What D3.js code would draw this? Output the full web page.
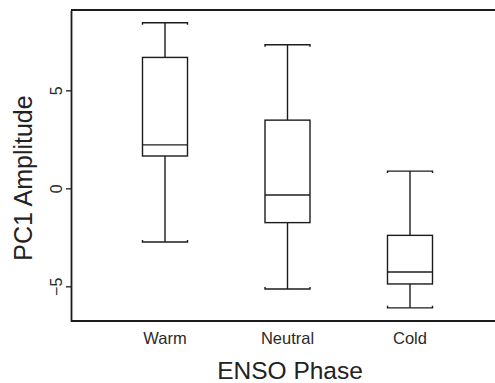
<!DOCTYPE html>
<html>
<head>
<meta charset="utf-8">
<script src="https://cdn.jsdelivr.net/npm/d3@7"></script>
<style>
  body { margin: 0; background: #fff; }
  svg { display: block; font-family: "Liberation Sans", Arial, sans-serif; }
</style>
</head>
<body>
<svg id="chart"></svg>
<script>
// ENSO phases and box stats
const phases = ['Warm', 'Neutral', 'Cold'];
const whiskerLow = [-2.74, -5.14, -6.1];
const q1 = [1.65, -1.75, -4.88];
const median = [2.22, -0.34, -4.27];
const q3 = [6.68, 3.48, -2.40];
const whiskerHigh = [8.45, 7.33, 0.88];
const yTicks = [-5, 0, 5];

const width = 495, height = 383;
const margin = { top: 10, right: 0, bottom: 62, left: 71 };
const boxW = 45;

const svg = d3.select('#chart')
  .attr('width', width)
  .attr('height', height);

const x = d3.scalePoint()
  .domain(phases)
  .range([165, 410]);

const y = d3.scaleLinear()
  .domain([-6.77, 9.1])
  .range([height - margin.bottom, margin.top]);

const data = phases.map((p, i) => ({
  phase: p, lo: whiskerLow[i], q1: q1[i], med: median[i], q3: q3[i], hi: whiskerHigh[i]
}));

const ink = '#1c1c1c';

// frame: top and bottom lines (right side runs off the picture)
const frame = svg.append('g').attr('stroke', ink).attr('stroke-width', 1.8).attr('fill', 'none');
frame.append('line').attr('x1', margin.left).attr('x2', width)
  .attr('y1', y.range()[1]).attr('y2', y.range()[1]);
frame.append('line').attr('x1', margin.left).attr('x2', width)
  .attr('y1', y.range()[0]).attr('y2', y.range()[0]);

// y axis
const yAxis = svg.append('g')
  .attr('transform', `translate(${margin.left},0)`)
  .call(d3.axisLeft(y).tickValues(yTicks).tickSize(5).tickPadding(9).tickSizeOuter(0));
yAxis.select('.domain').attr('stroke', ink).attr('stroke-width', 1.8);
yAxis.selectAll('.tick line').attr('stroke', ink).attr('stroke-width', 1.3);
yAxis.selectAll('.tick text')
  .attr('fill', '#2a2a2a')
  .style('font-size', '16px')
  .attr('x', null).attr('dy', null)
  .attr('text-anchor', 'middle')
  .attr('transform', 'translate(-9,0) rotate(-90)');

// x axis labels only (no ticks)
svg.append('g').selectAll('text')
  .data(phases).enter().append('text')
  .attr('x', d => x(d))
  .attr('y', 344)
  .attr('text-anchor', 'middle')
  .attr('fill', '#2a2a2a')
  .style('font-size', '16.5px')
  .text(d => d);

// axis titles
svg.append('text')
  .attr('x', 290).attr('y', 379)
  .attr('text-anchor', 'middle')
  .attr('fill', '#222')
  .style('font-size', '24.5px')
  .text('ENSO Phase');

svg.append('text')
  .attr('transform', 'translate(32,178) rotate(-90)')
  .attr('text-anchor', 'middle')
  .attr('fill', '#222')
  .style('font-size', '25px')
  .text('PC1 Amplitude');

// boxes
const g = svg.append('g').attr('stroke', ink).attr('stroke-width', 1.4).attr('fill', 'none');
const box = g.selectAll('g.box').data(data).enter().append('g').attr('class', 'box');

// whiskers
box.append('line')
  .attr('x1', d => x(d.phase)).attr('x2', d => x(d.phase))
  .attr('y1', d => y(d.hi)).attr('y2', d => y(d.q3));
box.append('line')
  .attr('x1', d => x(d.phase)).attr('x2', d => x(d.phase))
  .attr('y1', d => y(d.q1)).attr('y2', d => y(d.lo));

// caps with small end hooks
box.append('path')
  .attr('d', d => {
    const l = x(d.phase) - boxW / 2, r = x(d.phase) + boxW / 2, yy = y(d.hi);
    return `M${l},${yy + 2}V${yy}H${r}V${yy + 2}`;
  });
box.append('path')
  .attr('d', d => {
    const l = x(d.phase) - boxW / 2, r = x(d.phase) + boxW / 2, yy = y(d.lo);
    return `M${l},${yy - 2}V${yy}H${r}V${yy - 2}`;
  });

// IQR box
box.append('rect')
  .attr('x', d => x(d.phase) - boxW / 2)
  .attr('width', boxW)
  .attr('y', d => y(d.q3))
  .attr('height', d => y(d.q1) - y(d.q3))
  .attr('fill', '#fff');

// median
box.append('line')
  .attr('x1', d => x(d.phase) - boxW / 2).attr('x2', d => x(d.phase) + boxW / 2)
  .attr('y1', d => y(d.med)).attr('y2', d => y(d.med));
</script>
</body>
</html>
